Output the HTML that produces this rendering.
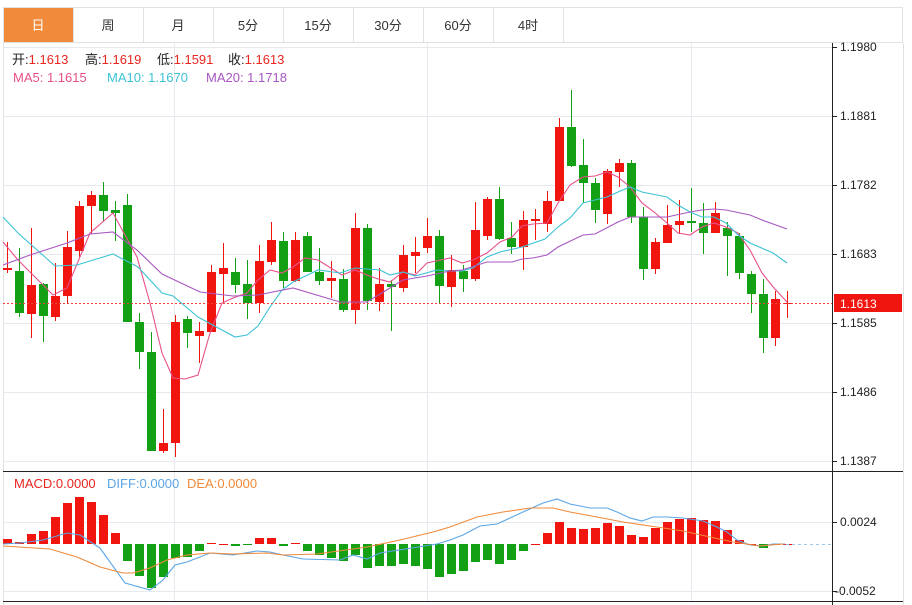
<!DOCTYPE html>
<html><head><meta charset="utf-8"><style>
html,body{margin:0;padding:0;background:#fff;width:912px;height:605px;overflow:hidden;font-family:"Liberation Sans","Noto Sans CJK SC",sans-serif;}
svg{position:absolute;left:0;top:0}
</style></head><body>
<svg id="s" width="912" height="605" xmlns="http://www.w3.org/2000/svg" font-family="Liberation Sans, Noto Sans CJK SC, sans-serif">
<rect x="0" y="0" width="912" height="605" fill="#fff"/>
<rect x="3.5" y="7.5" width="899" height="35" fill="#fff" stroke="#e2e2e2"/>
<rect x="4" y="8" width="69" height="34" fill="#f18a3b"/>
<g stroke="#e2e2e2"><line x1="143.5" y1="8" x2="143.5" y2="42"/><line x1="213.5" y1="8" x2="213.5" y2="42"/><line x1="283.5" y1="8" x2="283.5" y2="42"/><line x1="353.5" y1="8" x2="353.5" y2="42"/><line x1="423.5" y1="8" x2="423.5" y2="42"/><line x1="493.5" y1="8" x2="493.5" y2="42"/><line x1="563.5" y1="8" x2="563.5" y2="42"/><line x1="73.5" y1="8" x2="73.5" y2="42"/></g>
<g font-size="13" fill="#333" text-anchor="middle">
<text x="38" y="30" fill="#fff">日</text><text x="108" y="30">周</text><text x="178" y="30">月</text><text x="248" y="30">5分</text><text x="318" y="30">15分</text><text x="388" y="30">30分</text><text x="458" y="30">60分</text><text x="528" y="30">4时</text>
</g>
<line x1="903.5" y1="43" x2="903.5" y2="605" stroke="#e2e2e2"/>
<line x1="3.5" y1="43" x2="3.5" y2="605" stroke="#e2e2e2"/>
<g id="grid" stroke="#e6e9ee" stroke-width="1"></g>
<line x1="3" y1="471.5" x2="903" y2="471.5" stroke="#222"/>
<line x1="3" y1="601.5" x2="903" y2="601.5" stroke="#222"/>
<line x1="832.5" y1="43" x2="832.5" y2="605" stroke="#222"/>
<g id="c"></g>
<g id="m"></g>
<line x1="3" y1="303.5" x2="832" y2="303.5" stroke="#f0413a" stroke-dasharray="2,2"/>
<rect x="834" y="294" width="68" height="18" fill="#f0150f"/>
<text x="840" y="308" font-size="12" fill="#fff">1.1613</text>
<g id="ax" font-size="12" fill="#222"></g>
<g font-size="13">
<text x="12" y="64" fill="#222">开:<tspan fill="#e8251f">1.1613</tspan></text>
<text x="85" y="64" fill="#222">高:<tspan fill="#e8251f">1.1619</tspan></text>
<text x="157" y="64" fill="#222">低:<tspan fill="#e8251f">1.1591</tspan></text>
<text x="228" y="64" fill="#222">收:<tspan fill="#e8251f">1.1613</tspan></text>
<text x="13" y="82" fill="#e8508b">MA5: 1.1615</text>
<text x="107" y="82" fill="#3cc3d5">MA10: 1.1670</text>
<text x="206" y="82" fill="#a857c0">MA20: 1.1718</text>
<text x="14" y="488" fill="#e8251f">MACD:0.0000</text>
<text x="107" y="488" fill="#5ba5e5">DIFF:0.0000</text>
<text x="187" y="488" fill="#f08a3a">DEA:0.0000</text>
</g>
</svg>
<script>
var NS="http://www.w3.org/2000/svg";
function el(p,t,a){var e=document.createElementNS(NS,t);for(var k in a)e.setAttribute(k,a[k]);document.getElementById(p).appendChild(e);return e;}
[47,116,185,254,323,392,461,522,591].forEach(function(y){el("grid","line",{x1:3,y1:y+.5,x2:832,y2:y+.5});});
[174,427,691].forEach(function(x){el("grid","line",{x1:x+.5,y1:43,x2:x+.5,y2:601});});
var labs=[[47,"1.1980"],[116,"1.1881"],[185,"1.1782"],[254,"1.1683"],[323,"1.1585"],[392,"1.1486"],[461,"1.1387"],[522,"0.0024"],[591,"-0.0052"]];
labs.forEach(function(l){el("ax","line",{x1:832,y1:l[0]+.5,x2:837,y2:l[0]+.5,stroke:"#222"});var t=el("ax","text",{x:l[1][0]=="-"?835:840,y:l[0]+4});t.textContent=l[1];});
var R="#f0150f",G="#14a014";
var C=[[268,270,242,273,R],[271,313,248,317,G],[285,314,228,338,R],[284,316,283,342,G],[296,317,263,321,R],[247,296,231,303,R],[206,251,201,257,R],[195,206,191,234,R],[195,211,182,222,G],[210,213,201,241,G],[205,322,194,322,G],[322,352,313,369,G],[352,451,332,451,G],[443,451,409,453,R],[322,443,315,457,R],[319,333,316,348,G],[331,336,322,363,R],[272,332,265,332,R],[268,274,243,303,R],[272,285,258,293,G],[284,303,260,319,G],[261,303,245,313,R],[240,262,222,265,R],[241,281,232,288,G],[240,281,232,282,R],[236,272,232,272,G],[272,281,248,285,G],[278,281,261,298,R],[279,310,269,312,G],[228,310,213,324,R],[228,301,224,310,G],[284,302,268,311,R],[284,287,280,331,G],[255,288,245,292,R],[252,256,237,273,R],[236,248,218,253,R],[236,286,230,303,G],[270,287,255,307,R],[271,279,265,292,G],[230,279,202,281,R],[199,236,197,240,R],[199,239,187,240,G],[238,247,222,254,G],[220,247,211,270,R],[219,221,209,240,R],[201,224,191,232,R],[127,201,118,201,R],[127,166,90,167,G],[165,183,139,203,G],[183,210,178,223,G],[171,214,169,224,R],[163,172,159,187,R],[163,217,160,223,G],[217,269,207,280,G],[242,269,238,274,R],[225,243,205,243,R],[221,225,200,234,R],[221,223,188,232,G],[223,233,203,254,G],[213,233,202,233,R],[228,236,222,276,G],[236,273,233,279,G],[274,294,271,313,G],[294,338,279,353,G],[299,338,291,346,R],[303,304,291,318,R]];
C.forEach(function(c,i){var x=7+12*i;el("c","line",{x1:x+.5,y1:c[2],x2:x+.5,y2:c[3],stroke:c[4]});el("c","rect",{x:x-4,y:c[0],width:9,height:Math.max(1,c[1]-c[0]),fill:c[4]});});
function pl(pts,col){el("c","polyline",{points:pts,fill:"none",stroke:col,"stroke-width":1.1});}
pl("3,242 18,260 53,295 67,288 90,233 113,213 137,257 150,303 162,353 173,378 185,379 198,375 210,333 222,303 233,298 247,293 258,280 270,270 282,273 293,267 305,258 318,260 342,275 355,270 367,275 378,279 390,282 403,272 415,275 427,263 450,258 462,263 473,260 487,253 500,242 512,237 522,226 533,224 547,223 558,203 570,185 583,177 595,176 607,172 618,177 630,187 642,203 654,212 667,223 678,233 690,235 702,227 714,223 726,227 738,233 750,250 762,273 774,288 787,302","#e8508b");
pl("3,217 18,233 55,266 77,265 113,254 138,267 162,293 173,296 198,317 235,337 247,335 258,326 270,307 282,290 293,282 318,270 340,273 355,268 380,270 390,275 403,272 415,276 437,270 450,271 462,271 473,268 487,257 500,252 522,247 545,239 558,227 570,218 583,203 595,200 607,197 618,192 630,187 642,192 667,197 678,205 690,212 702,217 714,217 726,223 738,235 750,243 773,253 787,263","#3cc3d5");
pl("3,265 30,255 67,243 90,234 113,232 137,250 162,274 200,292 233,296 258,295 293,288 340,302 367,302 403,280 427,276 450,271 462,270 487,262 512,262 522,259 533,258 547,255 558,247 583,235 595,234 618,222 630,217 653,217 667,217 690,212 702,210 714,209 726,210 750,215 762,220 787,229","#a857c0");
var M=[539,542,534,531,517,503,497,502,515,533,561,576,588,577,558,557,551,543,544,546,545,538,538,546,543,551,555,558,561,555,568,566,566,564,566,569,577,574,571,562,560,564,560,551,544,533,522,528,529,528,523,526,535,537,528,522,519,518,520,521,530,540,544,548,544,544];
M.forEach(function(v,i){var x=7+12*i,z=544;if(Math.abs(v-z)<1){el("m","rect",{x:x-4,y:z,width:9,height:1,fill:R});return;}if(v<z)el("m","rect",{x:x-4,y:v,width:9,height:z-v,fill:R});else el("m","rect",{x:x-4,y:z,width:9,height:v-z,fill:G});});
function ml(pts,col){el("m","polyline",{points:pts,fill:"none",stroke:col,"stroke-width":1.1});}
ml("3,544 20,543 43,540 67,533 80,535 100,548 125,583 150,590 163,580 175,565 187,562 210,553 233,555 257,551 270,552 283,555 303,559 340,560 353,555 367,559 380,553 437,544 450,540 463,535 480,526 497,524 510,518 523,512 543,503 557,499 570,504 590,508 607,508 617,512 630,518 642,521 653,517 667,517 683,518 703,521 717,527 727,532 737,540 750,545 762,546 773,544 785,544","#5ba5e5");
ml("3,546 50,549 77,557 100,567 123,573 133,573 150,568 167,560 187,555 210,553 233,554 267,553 283,555 317,554 367,547 400,540 433,532 450,527 477,517 503,512 530,508 543,508 553,508 570,512 597,517 623,522 657,527 683,531 710,537 733,542 760,546 783,544","#f08a3a");
el("m","line",{x1:786,y1:544.5,x2:832,y2:544.5,stroke:"#9cc6ea","stroke-dasharray":"3,3"});
</script>
</body></html>
